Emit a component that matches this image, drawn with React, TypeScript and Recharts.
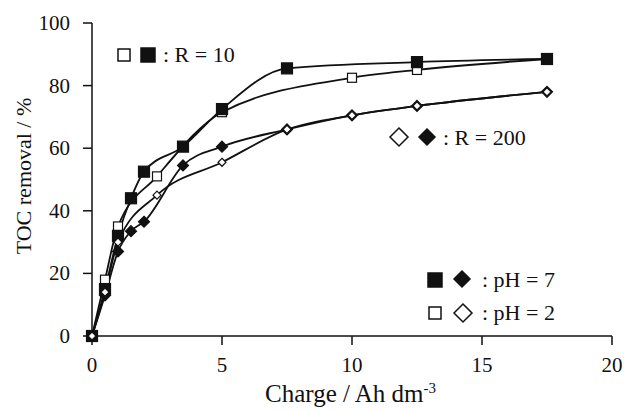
import React from 'react';
import { LineChart, Line, XAxis, YAxis } from 'recharts';

const xR10pH7 = [0, 0.5, 1, 1.5, 2, 3.5, 5, 7.5, 12.5, 17.5];
const yR10pH7 = [0, 15, 32, 44, 52.5, 60.5, 72.5, 85.5, 87.5, 88.5];
const xR10pH2 = [0, 0.5, 1, 2.5, 5, 10, 12.5, 17.5];
const yR10pH2 = [0, 18, 35, 51, 71.5, 82.5, 85, 88.5];
const xR200pH7 = [0, 0.5, 1, 1.5, 2, 3.5, 5, 7.5, 10, 12.5, 17.5];
const yR200pH7 = [0, 13, 27, 33.5, 36.5, 54.5, 60.5, 66, 70.5, 73.5, 78];
const xR200pH2 = [0, 0.5, 1, 2.5, 5, 7.5, 10, 12.5, 17.5];
const yR200pH2 = [0, 14, 30, 45, 55.5, 66, 70.5, 73.5, 78];

const xTicks = [0, 5, 10, 15, 20];
const yTicks = [0, 20, 40, 60, 80, 100];

const toRows = (xs: number[], ys: number[]) => xs.map((x, i) => ({ x, y: ys[i] }));

const FONT = '"Liberation Serif", "Times New Roman", serif';

const squareDot = (size: number, filled: boolean) => (props: any) => {
  const { cx, cy, index } = props;
  if (cx == null || cy == null) return <g key={`s${index}`} />;
  return (
    <rect
      key={`s${index}`}
      x={cx - size / 2}
      y={cy - size / 2}
      width={size}
      height={size}
      fill={filled ? '#111' : '#fff'}
      stroke="#111"
      strokeWidth={1.2}
    />
  );
};

const diamondDot = (size: number, filled: boolean) => (props: any) => {
  const { cx, cy, index } = props;
  if (cx == null || cy == null) return <g key={`d${index}`} />;
  const h = size / 2;
  return (
    <path
      key={`d${index}`}
      d={`M${cx},${cy - h} L${cx + h},${cy} L${cx},${cy + h} L${cx - h},${cy} Z`}
      fill={filled ? '#111' : '#fff'}
      stroke="#111"
      strokeWidth={1.2}
    />
  );
};

const XTick = (props: any) => {
  const { x, y, payload } = props;
  return (
    <text x={x} y={y + 16} textAnchor="middle" fontFamily={FONT} fontSize={21} fill="#111">
      {payload.value}
    </text>
  );
};

const YTick = (props: any) => {
  const { x, y, payload } = props;
  return (
    <text x={x} y={y + 7} textAnchor="end" fontFamily={FONT} fontSize={21} fill="#111">
      {payload.value}
    </text>
  );
};

const Sq = ({ x, y, s, filled }: { x: number; y: number; s: number; filled: boolean }) => (
  <rect x={x - s / 2} y={y - s / 2} width={s} height={s} fill={filled ? '#111' : '#fff'} stroke="#111" strokeWidth={1.5} />
);
const Dm = ({ x, y, s, filled }: { x: number; y: number; s: number; filled: boolean }) => (
  <path
    d={`M${x},${y - s / 2} L${x + s / 2},${y} L${x},${y + s / 2} L${x - s / 2},${y} Z`}
    fill={filled ? '#111' : '#fff'}
    stroke="#111"
    strokeWidth={1.5}
  />
);

export default function App() {
  return (
    <div style={{ position: 'absolute', left: 0, top: 0, width: 625, height: 412, background: '#fff', fontFamily: FONT }}>
      <LineChart width={625} height={412} margin={{ top: 23, right: 13, bottom: 0, left: 0 }}>
        <XAxis
          xAxisId="b"
          dataKey="x"
          type="number"
          domain={[0, 20]}
          ticks={xTicks}
          height={76}
          tickSize={9}
          tickMargin={11}
          tick={<XTick />}
          axisLine={{ stroke: '#111', strokeWidth: 1.5 }}
          tickLine={{ stroke: '#111', strokeWidth: 1.5 }}
          allowDuplicatedCategory={false}
        />
        <XAxis
          xAxisId="t"
          orientation="top"
          dataKey="x"
          type="number"
          domain={[0, 20]}
          height={0}
          tick={false}
          tickLine={false}
          axisLine={{ stroke: '#111', strokeWidth: 1.5 }}
          allowDuplicatedCategory={false}
        />
        <YAxis
          yAxisId="l"
          type="number"
          domain={[0, 100]}
          ticks={yTicks}
          width={92}
          tickSize={9}
          tickMargin={13}
          tick={<YTick />}
          axisLine={{ stroke: '#111', strokeWidth: 1.5 }}
          tickLine={{ stroke: '#111', strokeWidth: 1.5 }}
        />
        <YAxis
          yAxisId="r"
          orientation="right"
          type="number"
          domain={[0, 100]}
          width={0}
          tick={false}
          tickLine={false}
          axisLine={{ stroke: '#111', strokeWidth: 1.5 }}
        />
        <Line
          xAxisId="b"
          yAxisId="l"
          data={toRows(xR10pH2, yR10pH2)}
          dataKey="y"
          type="monotone"
          stroke="#111"
          strokeWidth={1.8}
          dot={squareDot(9, false)}
          isAnimationActive={false}
        />
        <Line
          xAxisId="b"
          yAxisId="l"
          data={toRows(xR10pH7, yR10pH7)}
          dataKey="y"
          type="monotone"
          stroke="#111"
          strokeWidth={1.8}
          dot={squareDot(11, true)}
          isAnimationActive={false}
        />
        <Line
          xAxisId="b"
          yAxisId="l"
          data={toRows(xR200pH7, yR200pH7)}
          dataKey="y"
          type="monotone"
          stroke="#111"
          strokeWidth={1.8}
          dot={diamondDot(11, true)}
          isAnimationActive={false}
        />
        <Line
          xAxisId="b"
          yAxisId="l"
          data={toRows(xR200pH2, yR200pH2)}
          dataKey="y"
          type="monotone"
          stroke="#111"
          strokeWidth={1.8}
          dot={diamondDot(8, false)}
          isAnimationActive={false}
        />
      </LineChart>
      <svg
        width={625}
        height={412}
        style={{ position: 'absolute', left: 0, top: 0, pointerEvents: 'none' }}
        fontFamily={FONT}
        fill="#111"
      >
        <text x={31} y={176} fontSize={22} textAnchor="middle" transform="rotate(-90 31 176)">
          TOC removal / %
        </text>
        <text x={265} y={402} fontSize={25}>
          <tspan>Charge / Ah dm</tspan>
          <tspan fontSize={15} dy={-9}>-3</tspan>
        </text>

        <Sq x={124} y={55} s={12} filled={false} />
        <Sq x={148} y={55} s={14} filled={true} />
        <text x={163} y={62} fontSize={22}>: R = 10</text>

        <Dm x={399} y={137} s={18} filled={false} />
        <Dm x={427} y={137} s={16} filled={true} />
        <text x={443} y={145} fontSize={22}>: R = 200</text>

        <Sq x={435} y={280} s={14} filled={true} />
        <Dm x={462} y={279} s={16} filled={true} />
        <text x={482} y={287} fontSize={22}>: pH = 7</text>

        <Sq x={435} y={313} s={12} filled={false} />
        <Dm x={463} y={313} s={18} filled={false} />
        <text x={482} y={320} fontSize={22}>: pH = 2</text>
      </svg>
    </div>
  );
}
